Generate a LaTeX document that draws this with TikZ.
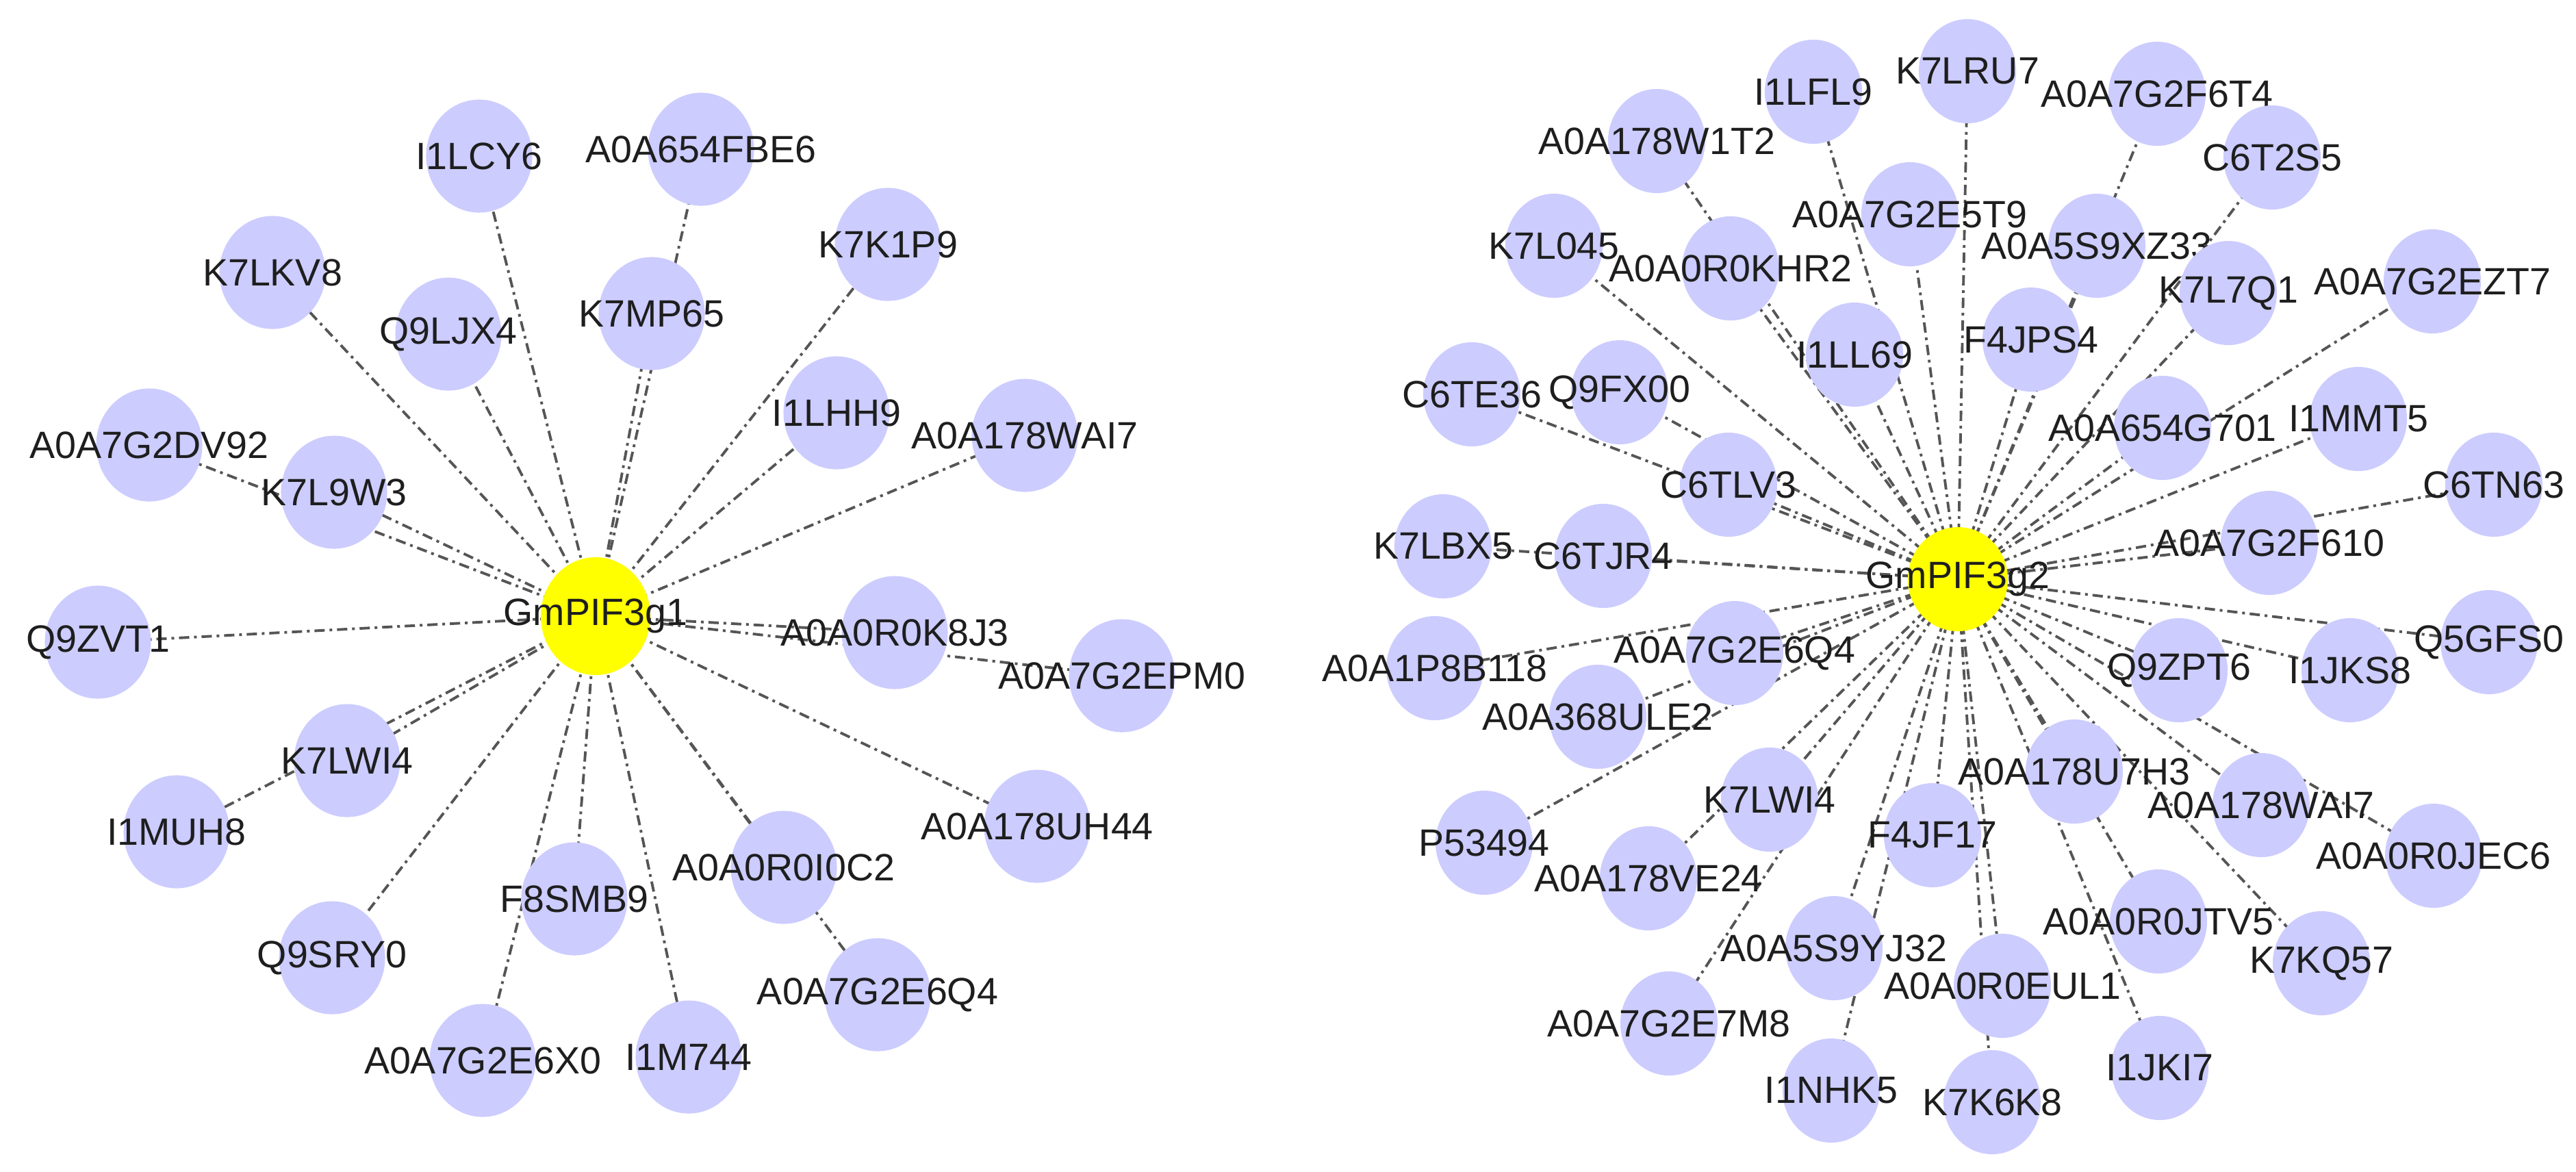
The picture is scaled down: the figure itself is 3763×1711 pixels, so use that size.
\documentclass[tikz,border=0pt]{standalone}
\usepackage{fontspec}
\setmainfont{Liberation Sans}
\usetikzlibrary{shapes.geometric,backgrounds}
\definecolor{pnode}{RGB}{204,204,255}
\definecolor{hub}{RGB}{255,255,0}
\definecolor{edgec}{RGB}{85,85,85}
\definecolor{txt}{RGB}{30,30,30}
\tikzset{
  pn/.style={ellipse,fill=pnode,draw=none,inner sep=0pt,minimum width=1.55cm,minimum height=1.65cm},
  pr/.style={ellipse,fill=pnode,draw=none,inner sep=0pt,minimum width=1.42cm,minimum height=1.52cm},
  hubL/.style={ellipse,fill=hub,draw=none,inner sep=0pt,minimum width=1.60cm,minimum height=1.72cm},
  hubR/.style={ellipse,fill=hub,draw=none,inner sep=0pt,minimum width=1.46cm,minimum height=1.52cm},
  lab/.style={label={[font=\fontsize{15.8}{18}\selectfont,text=txt,inner sep=0pt]center:#1}},
  lk/.style={draw=edgec,line width=1.1pt,dash pattern=on 0.15cm off 0.07cm on 0.04cm off 0.07cm}
}
\begin{document}
\begin{tikzpicture}[x=0.01cm,y=-0.01cm]
\useasboundingbox (0,0) rectangle (3763,1711);
% ---------------- left network ----------------
\node[hubL,lab=GmPIF3g1] (g1) at (870,900) {};
\foreach \n/\t/\x/\y in {
 l1/I1LCY6/700/228, l2/A0A654FBE6/1024/218, l3/K7K1P9/1297/357,
 l4/K7LKV8/398/398, l5/Q9LJX4/655/488, l6/K7MP65/952/458,
 l7/I1LHH9/1222/603, l8/A0A178WAI7/1497/636, l9/A0A7G2DV92/218/650,
 l10/K7L9W3/488/719, l11/Q9ZVT1/143/938, l12/A0A0R0K8J3/1307/924,
 l13/A0A7G2EPM0/1639/987, l14/K7LWI4/507/1111, l15/I1MUH8/258/1215,
 l16/A0A178UH44/1515/1207, l17/F8SMB9/839/1313, l18/A0A0R0I0C2/1145/1267,
 l19/Q9SRY0/485/1399, l20/A0A7G2E6Q4/1282/1453, l21/A0A7G2E6X0/705/1549,
 l22/I1M744/1006/1544}
 {\node[pn,lab=\t] (\n) at (\x,\y) {};}
% ---------------- right network ----------------
\node[hubR,lab=GmPIF3g2] (g2) at (2860,846) {};
\foreach \n/\t/\x/\y in {
 r1/I1LFL9/2649/134, r2/K7LRU7/2874/104, r3/A0A7G2F6T4/3151/137,
 r4/A0A178W1T2/2420/206, r5/C6T2S5/3319/230, r6/A0A7G2E5T9/2790/313,
 r7/K7L045/2270/359, r8/A0A0R0KHR2/2528/392, r9/A0A5S9XZ33/3063/359,
 r10/K7L7Q1/3255/428, r11/A0A7G2EZT7/3553/411, r12/I1LL69/2709/518,
 r13/F4JPS4/2967/496, r14/C6TE36/2150/576, r15/Q9FX00/2366/573,
 r16/A0A654G701/3159/625, r17/I1MMT5/3445/612, r18/C6TLV3/2525/708,
 r19/C6TN63/3643/708, r20/K7LBX5/2108/798, r21/C6TJR4/2342/812,
 r22/A0A7G2F610/3315/793, r23/A0A1P8B118/2096/976, r24/A0A7G2E6Q4/2534/954,
 r25/A0A368ULE2/2334/1047, r26/Q9ZPT6/3183/979, r27/I1JKS8/3433/979,
 r28/Q5GFS0/3636/938, r29/P53494/2168/1231, r30/K7LWI4/2585/1168,
 r31/A0A178U7H3/3030/1127, r32/A0A178WAI7/3303/1176, r33/A0A0R0JEC6/3555/1250,
 r34/A0A178VE24/2408/1283, r35/F4JF17/2823/1220, r36/A0A5S9YJ32/2679/1385,
 r37/A0A0R0JTV5/3153/1346, r38/K7KQ57/3391/1407, r39/A0A0R0EUL1/2925/1440,
 r40/A0A7G2E7M8/2438/1495, r41/I1JKI7/3155/1560, r42/I1NHK5/2675/1593,
 r43/K7K6K8/2910/1610}
 {\node[pr,lab=\t] (\n) at (\x,\y) {};}
% ---------------- links ----------------
\begin{pgfonlayer}{background}
\fill[white] (0,0) rectangle (3763,1711);
\foreach \i in {1,...,22} {\draw[lk] (g1.center) -- (l\i.center);}
\foreach \i in {1,...,43} {\draw[lk] (g2.center) -- (r\i.center);}
\end{pgfonlayer}
\end{tikzpicture}
\end{document}
